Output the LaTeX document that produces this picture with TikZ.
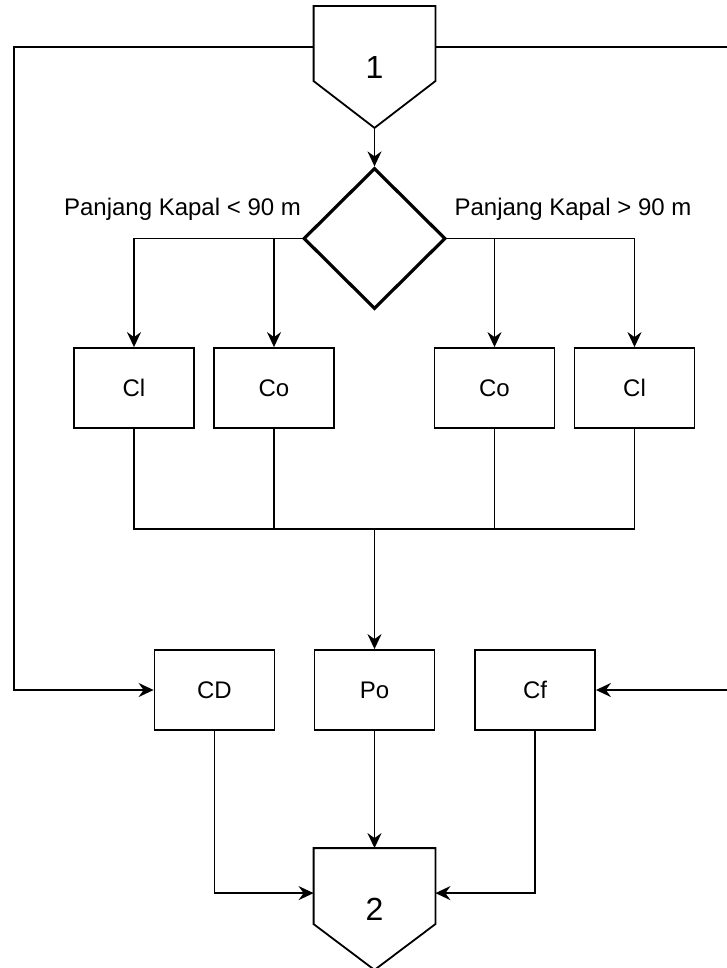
\documentclass[tikz,border=0pt]{standalone}
\usepackage{fontspec}
\setmainfont{Liberation Sans}
\usetikzlibrary{arrows.meta,shapes.geometric,calc}
\begin{document}
\begin{tikzpicture}[x=1pt,y=-1pt,
  line width=1.8pt,
  box/.style={draw, rectangle, minimum width=120pt, minimum height=80pt,
    inner sep=0pt, font=\fontsize{24}{28}\selectfont},
  offpage/.style={rectangle, minimum width=120pt, minimum height=120pt,
    inner sep=0pt, font=\fontsize{32}{36}\selectfont},
  decision/.style={draw, diamond, minimum width=142pt, minimum height=141pt,
    inner sep=0pt, line width=3.2pt},
  flow/.style={-{Stealth[length=15pt,width=14pt,inset=5pt]}},
  cond/.style={font=\fontsize{24}{28}\selectfont, anchor=base}
]
\useasboundingbox (0,0) rectangle (727,968);
\clip (0,0) rectangle (727,968);

% off-page connectors
\node[offpage] (c1) at (374.5,67) {1};
\draw (c1.north west) -- (c1.north east) -- ($(c1.north east)+(0,75)$)
  -- (c1.south) -- ($(c1.north west)+(0,75)$) -- cycle;
\node[offpage] (c2) at (374.5,909) {2};
\draw (c2.north west) -- (c2.north east) -- ($(c2.north east)+(0,76)$)
  -- (c2.south) -- ($(c2.north west)+(0,76)$) -- cycle;

% decision
\node[decision] (d) at (374.5,238.5) {};
\node[cond] (lblL) at (182.5,216) {Panjang Kapal < 90 m};
\node[cond] (lblR) at (573,216) {Panjang Kapal > 90 m};

% upper boxes
\node[box] (cl1) at (134,388) {Cl};
\node[box] (co1) at (274,388) {Co};
\node[box] (co2) at (494.5,388) {Co};
\node[box] (cl2) at (634.5,388) {Cl};

% lower boxes
\node[box] (cd) at (214.5,690) {CD};
\node[box] (po) at (374.5,690) {Po};
\node[box] (cf) at (535,690) {Cf};

% helper points
\coordinate (m) at (374.5,529);
\coordinate (c1l) at ($(c1.north west)+(0,41)$);
\coordinate (c1r) at ($(c1.north east)+(0,41)$);
\coordinate (lx) at (14,0);
\coordinate (rx) at (729,0);
\coordinate (c2l) at ($(c2.north west)+(0,45)$);
\coordinate (c2r) at ($(c2.north east)+(0,45)$);

% connectors
\draw[flow] (c1.south) -- (d.north);
\draw[flow] (d.west) -| (cl1.north);
\draw[flow] (d.west -| co1.north) -- (co1.north);
\draw[flow] (d.east) -| (cl2.north);
\draw[flow] (d.east -| co2.north) -- (co2.north);

\draw (cl1.south) -- (cl1.south |- m) -- (cl2.south |- m) -- (cl2.south);
\draw (co1.south) -- (co1.south |- m);
\draw (co2.south) -- (co2.south |- m);
\draw[flow] (m) -- (po.north);

\draw[flow] (c1l) -- (c1l -| lx) |- (cd.west);
\draw[flow] (c1r) -- (c1r -| rx) |- (cf.east);

\draw[flow] (po.south) -- (c2.north);
\draw[flow] (cd.south) |- (c2l);
\draw[flow] (cf.south) |- (c2r);
\end{tikzpicture}
\end{document}
